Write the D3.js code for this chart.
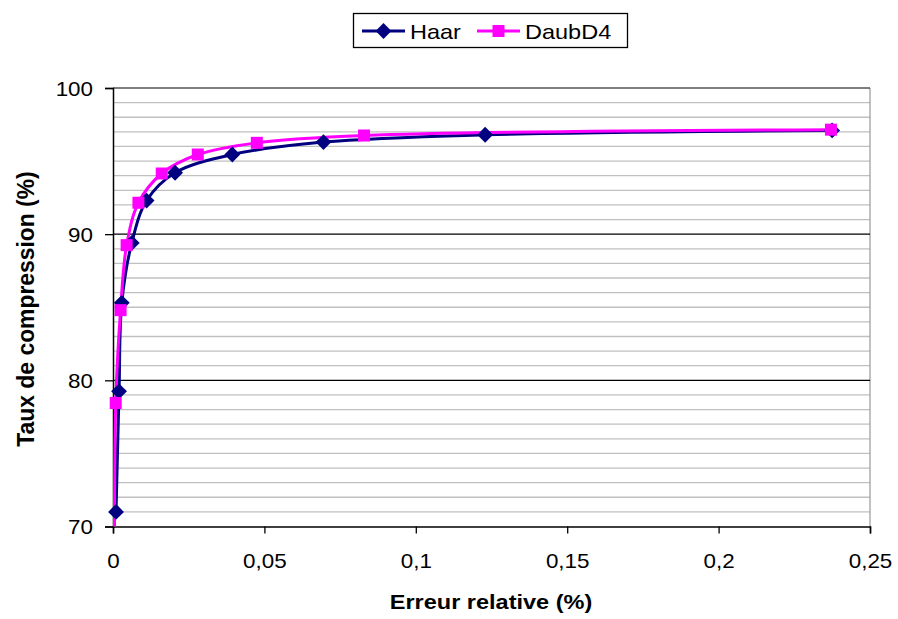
<!DOCTYPE html>
<html><head><meta charset="utf-8">
<script src="https://cdn.jsdelivr.net/npm/d3@7"></script>
<style>body{margin:0;background:#fff}svg{display:block;font-family:"Liberation Sans",Arial,sans-serif}</style>
</head><body><svg id="c" width="898" height="619"></svg>
<script>
const seriesNames = ["Haar", "DaubD4"];
const haarX = [0.001, 0.002, 0.0029, 0.0062, 0.0111, 0.0205, 0.0394, 0.0695, 0.1229, 0.2375];
const haarY = [71.0, 79.25, 85.3, 89.4, 92.3, 94.2, 95.45, 96.3, 96.8, 97.1];
const daubX = [0.0005, 0.0009, 0.0025, 0.0045, 0.0084, 0.0161, 0.028, 0.0475, 0.0829, 0.2371];
const daubY = [68.0, 78.45, 84.8, 89.25, 92.15, 94.15, 95.45, 96.25, 96.75, 97.15];
const xTicks = [0, 0.05, 0.1, 0.15, 0.2, 0.25];
const xTickLabels = ["0", "0,05", "0,1", "0,15", "0,2", "0,25"];
const yTicks = [70, 80, 90, 100];
const xTitle = "Erreur relative (%)";
const yTitle = "Taux de compression (%)";

const SX = 1.12; // horizontal stretch of the reference text
const svg = d3.select("#c");
const L = 113, R = 870, T = 88, B = 526.5;
const x = d3.scaleLinear().domain([0, 0.25]).range([L, R]);
const y = d3.scaleLinear().domain([70, 100]).range([B, T]);

const minor = d3.range(71, 100).filter(v => v % 10 !== 0);
svg.append("g").selectAll("line").data(minor).join("line")
  .attr("x1", L).attr("x2", R).attr("y1", d => y(d)).attr("y2", d => y(d))
  .attr("stroke", "#c0c0c0").attr("stroke-width", 1.3);
svg.append("line").attr("x1", R).attr("x2", R).attr("y1", T).attr("y2", B)
  .attr("stroke", "#a0a0a0").attr("stroke-width", 1.3);
svg.append("g").selectAll("line").data([80, 90, 100]).join("line")
  .attr("x1", L).attr("x2", R).attr("y1", d => y(d)).attr("y2", d => y(d))
  .attr("stroke", "#000").attr("stroke-width", 1.1);

const yAxis = d3.axisLeft(y).tickValues(yTicks).tickSize(8).tickPadding(0).tickFormat(d3.format("d"));
const gy = svg.append("g").attr("transform", `translate(${L},0)`).call(yAxis);
const xAxis = d3.axisBottom(x).tickValues(xTicks).tickSize(7).tickPadding(0).tickFormat((d, i) => xTickLabels[i]);
const gx = svg.append("g").attr("transform", `translate(0,${B})`).call(xAxis);
[gx, gy].forEach(g => {
  g.select(".domain").attr("stroke", "#000").attr("stroke-width", 1.5);
  g.selectAll(".tick line").attr("stroke", "#000").attr("stroke-width", 1.3);
  g.selectAll(".tick text").attr("fill", "#000").style("font-size", "20px")
    .style("font-family", "Liberation Sans, Arial, sans-serif");
});
gy.selectAll(".tick text").attr("x", null).attr("dy", null)
  .attr("transform", `translate(-20,7) scale(${SX},1)`);
gx.selectAll(".tick text").attr("y", null).attr("dy", null)
  .attr("transform", `translate(0,41) scale(${SX},1)`);

svg.append("clipPath").attr("id", "clip").append("rect")
  .attr("x", L - 10).attr("y", T - 10).attr("width", R - L + 20).attr("height", B - T + 10);

const line = d3.line().x(d => x(d[0])).y(d => y(d[1])).curve(d3.curveCatmullRom.alpha(0.5));
const haar = haarX.map((v, i) => [v, haarY[i]]);
const daub = daubX.map((v, i) => [v, daubY[i]]);
const clipG = svg.append("g").attr("clip-path", "url(#clip)");

clipG.append("path").datum(haar).attr("d", line).attr("fill", "none").attr("stroke", "#000080").attr("stroke-width", 3);
clipG.append("path").datum(daub).attr("d", line).attr("fill", "none").attr("stroke", "#ff00ff").attr("stroke-width", 3);

const dia = d3.symbol().type(d3.symbolSquare).size(125);
clipG.selectAll(".hm").data(haar).join("path")
  .attr("transform", d => `translate(${x(d[0])},${y(d[1])}) rotate(45)`)
  .attr("d", dia).attr("fill", "#000080");
clipG.selectAll(".dm").data(daub.filter(d => d[1] >= 70)).join("rect")
  .attr("x", d => x(d[0]) - 6).attr("y", d => y(d[1]) - 6).attr("width", 12).attr("height", 12)
  .attr("fill", "#ff00ff");

svg.append("text").attr("transform", `translate(491,609) scale(${SX},1)`).attr("text-anchor", "middle")
  .style("font-size", "21px").style("font-weight", "bold").text(xTitle);
svg.append("text").attr("transform", `translate(34,309) rotate(-90) scale(1.09,${SX})`).attr("text-anchor", "middle")
  .style("font-size", "21px").style("font-weight", "bold").text(yTitle);

const lg = svg.append("g");
lg.append("rect").attr("x", 353.5).attr("y", 13.5).attr("width", 274).attr("height", 34)
  .attr("fill", "#fff").attr("stroke", "#000").attr("stroke-width", 1.3);
lg.append("line").attr("x1", 362).attr("x2", 405).attr("y1", 31).attr("y2", 31).attr("stroke", "#000080").attr("stroke-width", 3);
lg.append("path").attr("transform", "translate(383.5,31) rotate(45)").attr("d", dia).attr("fill", "#000080");
lg.append("text").attr("transform", `translate(410,39) scale(${SX},1)`).style("font-size", "21px").text(seriesNames[0]);
lg.append("line").attr("x1", 477).attr("x2", 520).attr("y1", 31).attr("y2", 31).attr("stroke", "#ff00ff").attr("stroke-width", 3);
lg.append("rect").attr("x", 492.5).attr("y", 25).attr("width", 12).attr("height", 12).attr("fill", "#ff00ff");
lg.append("text").attr("transform", `translate(525,39) scale(${SX},1)`).style("font-size", "21px").text(seriesNames[1]);
</script></body></html>
